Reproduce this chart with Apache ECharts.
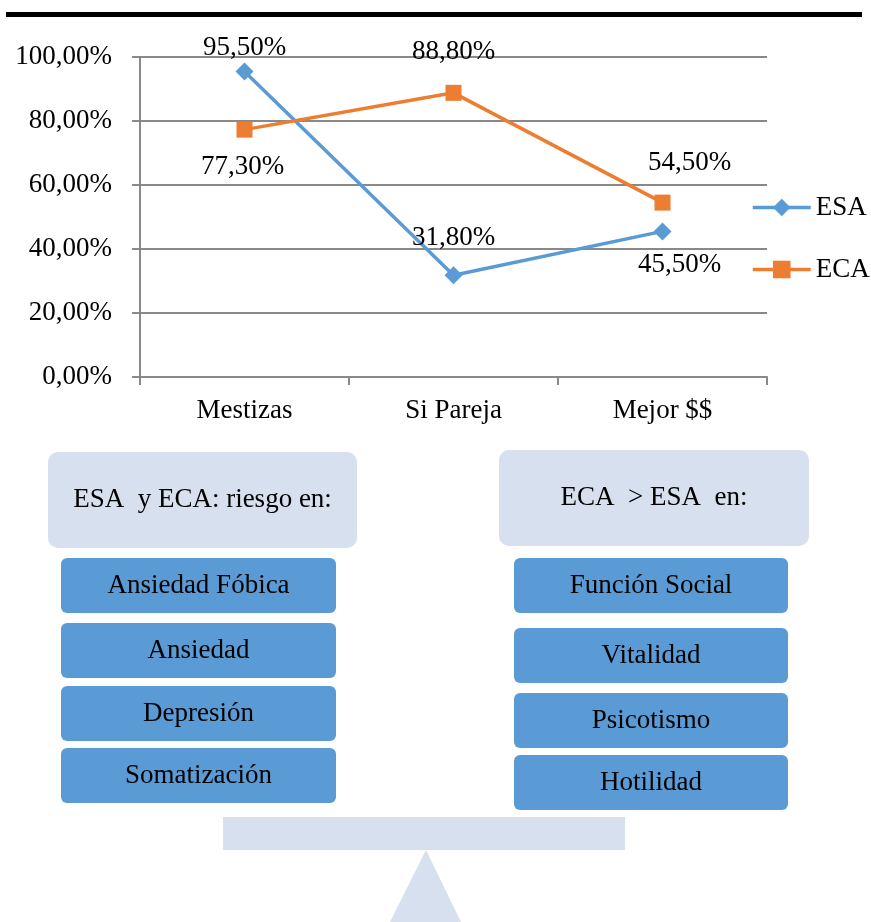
<!DOCTYPE html>
<html>
<head>
<meta charset="utf-8">
<script src="https://cdn.jsdelivr.net/npm/echarts@6/dist/echarts.min.js"></script>
<style>
html, body { margin: 0; padding: 0; background: #fff; }
#chart { width: 871px; height: 922px; }
</style>
</head>
<body>
<div id="chart"></div>
<script>
// datos del grafico
var categories = ['Mestizas', 'Si Pareja', 'Mejor $$'];
var esaValues = [95.5, 31.8, 45.5];
var ecaValues = [77.3, 88.8, 54.5];
var yTicks = [0, 20, 40, 60, 80, 100];

// textos del diagrama
var leftTitle = 'ESA  y ECA: riesgo en:';
var leftItems = ['Ansiedad Fóbica', 'Ansiedad', 'Depresión', 'Somatización'];
var rightTitle = 'ECA  > ESA  en:';
var rightItems = ['Función Social', 'Vitalidad', 'Psicotismo', 'Hotilidad'];

// posicion de las etiquetas (solo estilo)
var esaLabelPos = [['top', 0, 1], ['top', 0, 15], ['bottom', 17, 11]];
var ecaLabelPos = [['bottom', -2, 16], ['top', 0, 19], ['top', 27, 18]];

var FONT = "'Liberation Serif', 'Times New Roman', serif";
var FS = 27;
var BLUE = '#5B9BD5';
var ORANGE = '#ED7D31';
var PALE = '#D6E0EF';
var GRID = '#898989';

function fmt(v) {
    return v.toFixed(2).replace('.', ',') + '%';
}

function buildData(values, pos) {
    return values.map(function (v, i) {
        return {
            value: v,
            label: {
                position: pos[i][0],
                offset: [pos[i][1], 0],
                distance: pos[i][2]
            }
        };
    });
}

function box(x, y, w, h, r, fill, text) {
    return {
        type: 'rect',
        shape: { x: x, y: y, width: w, height: h, r: r },
        style: { fill: fill },
        textContent: {
            style: { text: text, fill: '#000', fontSize: FS, fontFamily: FONT }
        },
        textConfig: { position: 'inside' }
    };
}

var graphics = [];
// linea superior
graphics.push({ type: 'rect', shape: { x: 6, y: 12, width: 856, height: 5 }, style: { fill: '#000' } });

// cajas de la izquierda
graphics.push(box(48, 452, 309, 96, 10, PALE, leftTitle));
var leftY = [558, 623, 686, 748];
leftItems.forEach(function (t, i) {
    graphics.push(box(61, leftY[i], 275, 55, 6, BLUE, t));
});

// cajas de la derecha
graphics.push(box(499, 450, 310, 96, 10, PALE, rightTitle));
var rightY = [558, 628, 693, 755];
rightItems.forEach(function (t, i) {
    graphics.push(box(514, rightY[i], 274, 55, 6, BLUE, t));
});

// balanza
graphics.push({ type: 'rect', shape: { x: 223, y: 817, width: 402, height: 33 }, style: { fill: PALE } });
graphics.push({ type: 'polygon', shape: { points: [[426, 850], [390, 922], [461, 922]] }, style: { fill: PALE } });

var labelCfg = {
    show: true, color: '#000', fontSize: FS, fontFamily: FONT,
    formatter: function (p) { return fmt(p.value); }
};

var chart = echarts.init(document.getElementById('chart'));
var option = {
    backgroundColor: '#fff',
    animation: false,
    textStyle: { fontFamily: FONT },
    grid: { left: 140, right: 104, top: 57, bottom: 545 },
    legend: {
        orient: 'vertical',
        left: 746,
        top: 189,
        itemWidth: 58,
        itemHeight: 22,
        itemGap: 35,
        lineStyle: { width: 3.5 },
        textStyle: { fontFamily: FONT, fontSize: FS, color: '#000' },
        data: ['ESA', 'ECA']
    },
    xAxis: {
        type: 'category',
        data: categories,
        boundaryGap: true,
        axisLine: { lineStyle: { color: GRID, width: 2 } },
        axisTick: { show: true, length: 8, lineStyle: { color: GRID, width: 2 } },
        axisLabel: { color: '#000', fontSize: FS, margin: 20, fontFamily: FONT }
    },
    yAxis: {
        type: 'value',
        min: yTicks[0],
        max: yTicks[yTicks.length - 1],
        interval: 20,
        axisLine: { show: true, lineStyle: { color: GRID, width: 2 } },
        axisTick: { show: true, length: 8, lineStyle: { color: GRID, width: 2 } },
        splitLine: { lineStyle: { color: GRID, width: 2 } },
        axisLabel: { color: '#000', fontSize: FS, margin: 28, fontFamily: FONT, formatter: fmt }
    },
    series: [
        {
            name: 'ESA',
            type: 'line',
            data: buildData(esaValues, esaLabelPos),
            symbol: 'diamond',
            symbolSize: 18,
            color: BLUE,
            lineStyle: { width: 3.5, color: BLUE },
            label: labelCfg
        },
        {
            name: 'ECA',
            type: 'line',
            data: buildData(ecaValues, ecaLabelPos),
            symbol: 'rect',
            symbolSize: 16,
            color: ORANGE,
            lineStyle: { width: 3.5, color: ORANGE },
            label: labelCfg
        }
    ],
    graphic: graphics
};
chart.setOption(option);
</script>
</body>
</html>
